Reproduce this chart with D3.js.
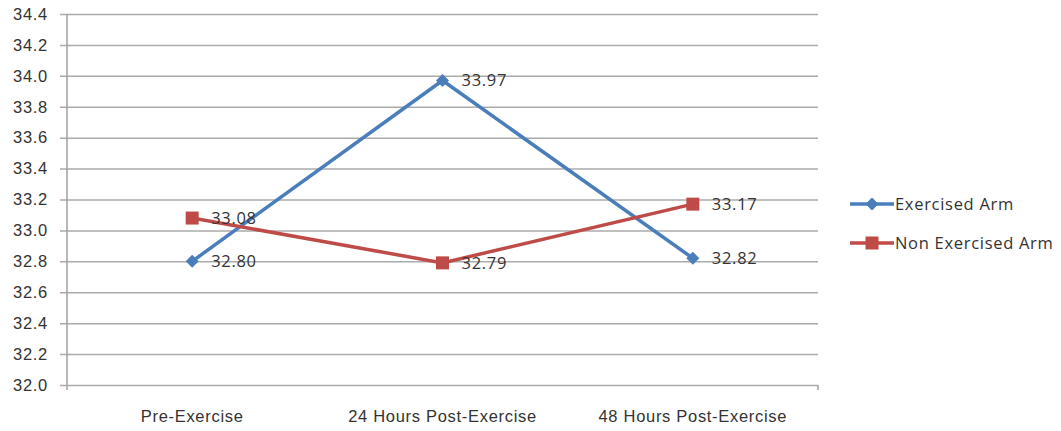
<!DOCTYPE html>
<html>
<head>
<meta charset="utf-8">
<script src="https://cdn.jsdelivr.net/npm/d3@7"></script>
<style>
  body { margin: 0; background: #fff; }
  svg { display: block; font-family: "Open Sans", "DejaVu Sans", sans-serif; }
  svg text { font-weight: 500; letter-spacing: 0.7px; }
</style>
</head>
<body>
<div id="viz"></div>
<script>
const categories = ['Pre-Exercise', '24 Hours Post-Exercise', '48 Hours Post-Exercise'];
const exercisedArm = [32.80, 33.97, 32.82];
const nonExercisedArm = [33.08, 32.79, 33.17];
const yTicks = [32.0, 32.2, 32.4, 32.6, 32.8, 33.0, 33.2, 33.4, 33.6, 33.8, 34.0, 34.2, 34.4];

const series = [
  { name: 'Exercised Arm', values: exercisedArm, color: '#4a7ebb', shape: 'diamond' },
  { name: 'Non Exercised Arm', values: nonExercisedArm, color: '#be4b48', shape: 'square' }
];

const WIDTH = 1061;
const HEIGHT = 431;
const PLOT = { left: 67, right: 818, top: 14, bottom: 385 };
const FONT = 16.5;

const svg = d3.select('#viz').append('svg')
  .attr('width', WIDTH)
  .attr('height', HEIGHT);

const x = d3.scaleBand()
  .domain(categories)
  .range([PLOT.left, PLOT.right]);

const y = d3.scaleLinear()
  .domain([32.0, 34.4])
  .range([PLOT.bottom, PLOT.top]);

// gridlines + y axis (ticks stick out 7px left of the axis)
const yAxis = d3.axisLeft(y)
  .tickValues(yTicks)
  .tickFormat(d3.format('.1f'))
  .tickSizeInner(-(PLOT.right - PLOT.left) - 7)
  .tickSizeOuter(0)
  .tickPadding(12);

svg.append('g')
  .attr('class', 'yaxis')
  .attr('transform', `translate(${PLOT.left - 7}, 0)`)
  .call(yAxis)
  .call(g => g.select('.domain').remove())
  .call(g => g.selectAll('.tick line').attr('stroke', '#ababab').attr('stroke-width', 1.5))
  .call(g => g.selectAll('.tick text')
    .attr('x', -12)
    .attr('fill', '#333').attr('font-size', FONT));

// vertical axis line
svg.append('line')
  .attr('x1', PLOT.left).attr('x2', PLOT.left)
  .attr('y1', PLOT.top).attr('y2', PLOT.bottom + 5)
  .attr('stroke', '#a0a0a0').attr('stroke-width', 1.5);

// x axis
const xAxis = d3.axisBottom(x).tickSize(0).tickPadding(25);
svg.append('g')
  .attr('transform', `translate(0, ${PLOT.bottom})`)
  .call(xAxis)
  .call(g => g.select('.domain').remove())
  .call(g => g.selectAll('.tick text').attr('fill', '#333').attr('font-size', FONT));

svg.append('line')
  .attr('x1', PLOT.right).attr('x2', PLOT.right)
  .attr('y1', PLOT.bottom).attr('y2', PLOT.bottom + 5)
  .attr('stroke', '#a0a0a0').attr('stroke-width', 1.5);

const cx = c => x(c) + x.bandwidth() / 2;

const line = d3.line()
  .x((d, i) => cx(categories[i]))
  .y(d => y(d));

function drawMarker(g, shape, color, px, py) {
  if (shape === 'diamond') {
    g.append('path')
      .attr('d', `M${px},${py - 6.5}L${px + 6.5},${py}L${px},${py + 6.5}L${px - 6.5},${py}Z`)
      .attr('fill', color);
  } else {
    g.append('rect')
      .attr('x', px - 6.5).attr('y', py - 6.5)
      .attr('width', 13).attr('height', 13)
      .attr('fill', color);
  }
}

series.forEach(s => {
  const g = svg.append('g');
  g.append('path')
    .datum(s.values)
    .attr('d', line)
    .attr('fill', 'none')
    .attr('stroke', s.color)
    .attr('stroke-width', 3.5);
  s.values.forEach((v, i) => {
    drawMarker(g, s.shape, s.color, cx(categories[i]), y(v));
  });
});

// data labels drawn on top
series.forEach(s => {
  svg.append('g').selectAll('text')
    .data(s.values)
    .join('text')
    .attr('x', (d, i) => cx(categories[i]) + 19)
    .attr('y', d => y(d))
    .attr('dy', '0.35em')
    .attr('fill', '#333')
    .attr('font-size', FONT)
    .text(d => d.toFixed(2));
});

// legend
const legend = svg.append('g').attr('transform', 'translate(850, 204)');
series.forEach((s, i) => {
  const row = legend.append('g').attr('transform', `translate(0, ${i * 39})`);
  row.append('line')
    .attr('x1', 0).attr('x2', 44)
    .attr('stroke', s.color).attr('stroke-width', 3.5);
  drawMarker(row, s.shape, s.color, 22, 0);
  row.append('text')
    .attr('x', 45)
    .attr('dy', '0.35em')
    .attr('fill', '#333')
    .attr('font-size', FONT)
    .text(s.name);
});
</script>
</body>
</html>
